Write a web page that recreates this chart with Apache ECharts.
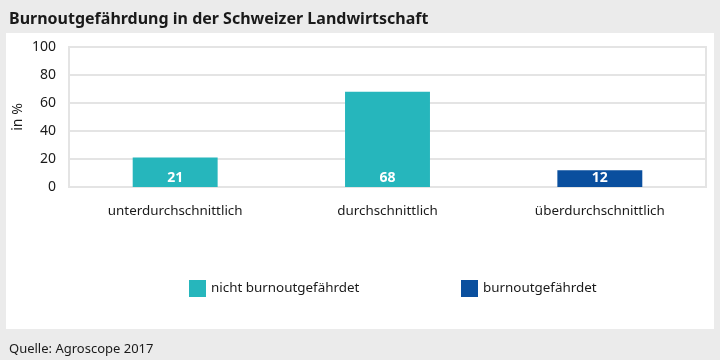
<!DOCTYPE html>
<html><head><meta charset="utf-8">
<script src="https://cdn.jsdelivr.net/npm/echarts@6/dist/echarts.min.js"></script>
<style>html,body{margin:0;padding:0;background:#ebebeb}#c{width:720px;height:360px}</style>
</head><body><div id="c"></div>
<script>
const categories = ['unterdurchschnittlich', 'durchschnittlich', 'überdurchschnittlich'];
const nichtGefaehrdet = [21, 68, '-'];
const gefaehrdet = ['-', '-', 12];
const yTicks = [0, 20, 40, 60, 80, 100];

const FONT = '"Noto Sans", sans-serif';
const chart = echarts.init(document.getElementById('c'));
const labelStyle = {show: true, position: 'insideBottom', distance: 2, color: '#fff', fontWeight: 'bold', fontSize: 14, fontFamily: FONT};
chart.setOption({
  backgroundColor: '#ebebeb',
  animation: false,
  graphic: [
    {type: 'rect', left: 6, top: 33, shape: {width: 708, height: 296}, style: {fill: '#ffffff'}, z: -10}
  ],
  title: [
    {text: 'Burnoutgefährdung in der Schweizer Landwirtschaft', left: 4, top: 6, textStyle: {fontFamily: FONT, fontSize: 16, fontWeight: 'bold', color: '#1a1a1a'}},
    {text: 'Quelle: Agroscope 2017', left: 4, top: 338, textStyle: {fontFamily: FONT, fontSize: 13, fontWeight: 'normal', color: '#1a1a1a'}}
  ],
  legend: [
    {data: ['nicht burnoutgefährdet'], left: 184, top: 275, itemWidth: 17, itemHeight: 17, itemGap: 0, icon: 'rect', textStyle: {fontFamily: FONT, fontSize: 13.4, color: '#1a1a1a'}},
    {data: ['burnoutgefährdet'], left: 456, top: 275, itemWidth: 17, itemHeight: 17, icon: 'rect', textStyle: {fontFamily: FONT, fontSize: 13.4, color: '#1a1a1a'}}
  ],
  grid: {left: 69, right: 14, top: 47, bottom: 173, show: true, borderColor: '#e4e4e4', borderWidth: 2},
  xAxis: {
    type: 'category', data: categories,
    axisLine: {show: false}, axisTick: {show: false},
    axisLabel: {fontFamily: FONT, fontSize: 13.4, color: '#1a1a1a', margin: 18}
  },
  yAxis: {
    type: 'value', min: 0, max: 100, interval: 20,
    name: 'in %', nameLocation: 'middle', nameGap: 44, nameRotate: 90, nameMoveOverlap: false,
    nameTextStyle: {fontFamily: FONT, fontSize: 14, color: '#1a1a1a'},
    axisLine: {show: false}, axisTick: {show: false},
    axisLabel: {fontFamily: FONT, fontSize: 14, color: '#1a1a1a', margin: 13,
      formatter: v => yTicks.includes(v) ? String(v) : ''},
    splitLine: {lineStyle: {color: '#e4e4e4', width: 2}}
  },
  series: [
    {name: 'nicht burnoutgefährdet', type: 'bar', stack: 'a', data: nichtGefaehrdet, barWidth: '40%', itemStyle: {color: '#26b6bc'}, label: labelStyle},
    {name: 'burnoutgefährdet', type: 'bar', stack: 'a', data: gefaehrdet, barWidth: '40%', itemStyle: {color: '#0a4f9e'}, label: labelStyle}
  ]
});
</script></body></html>
